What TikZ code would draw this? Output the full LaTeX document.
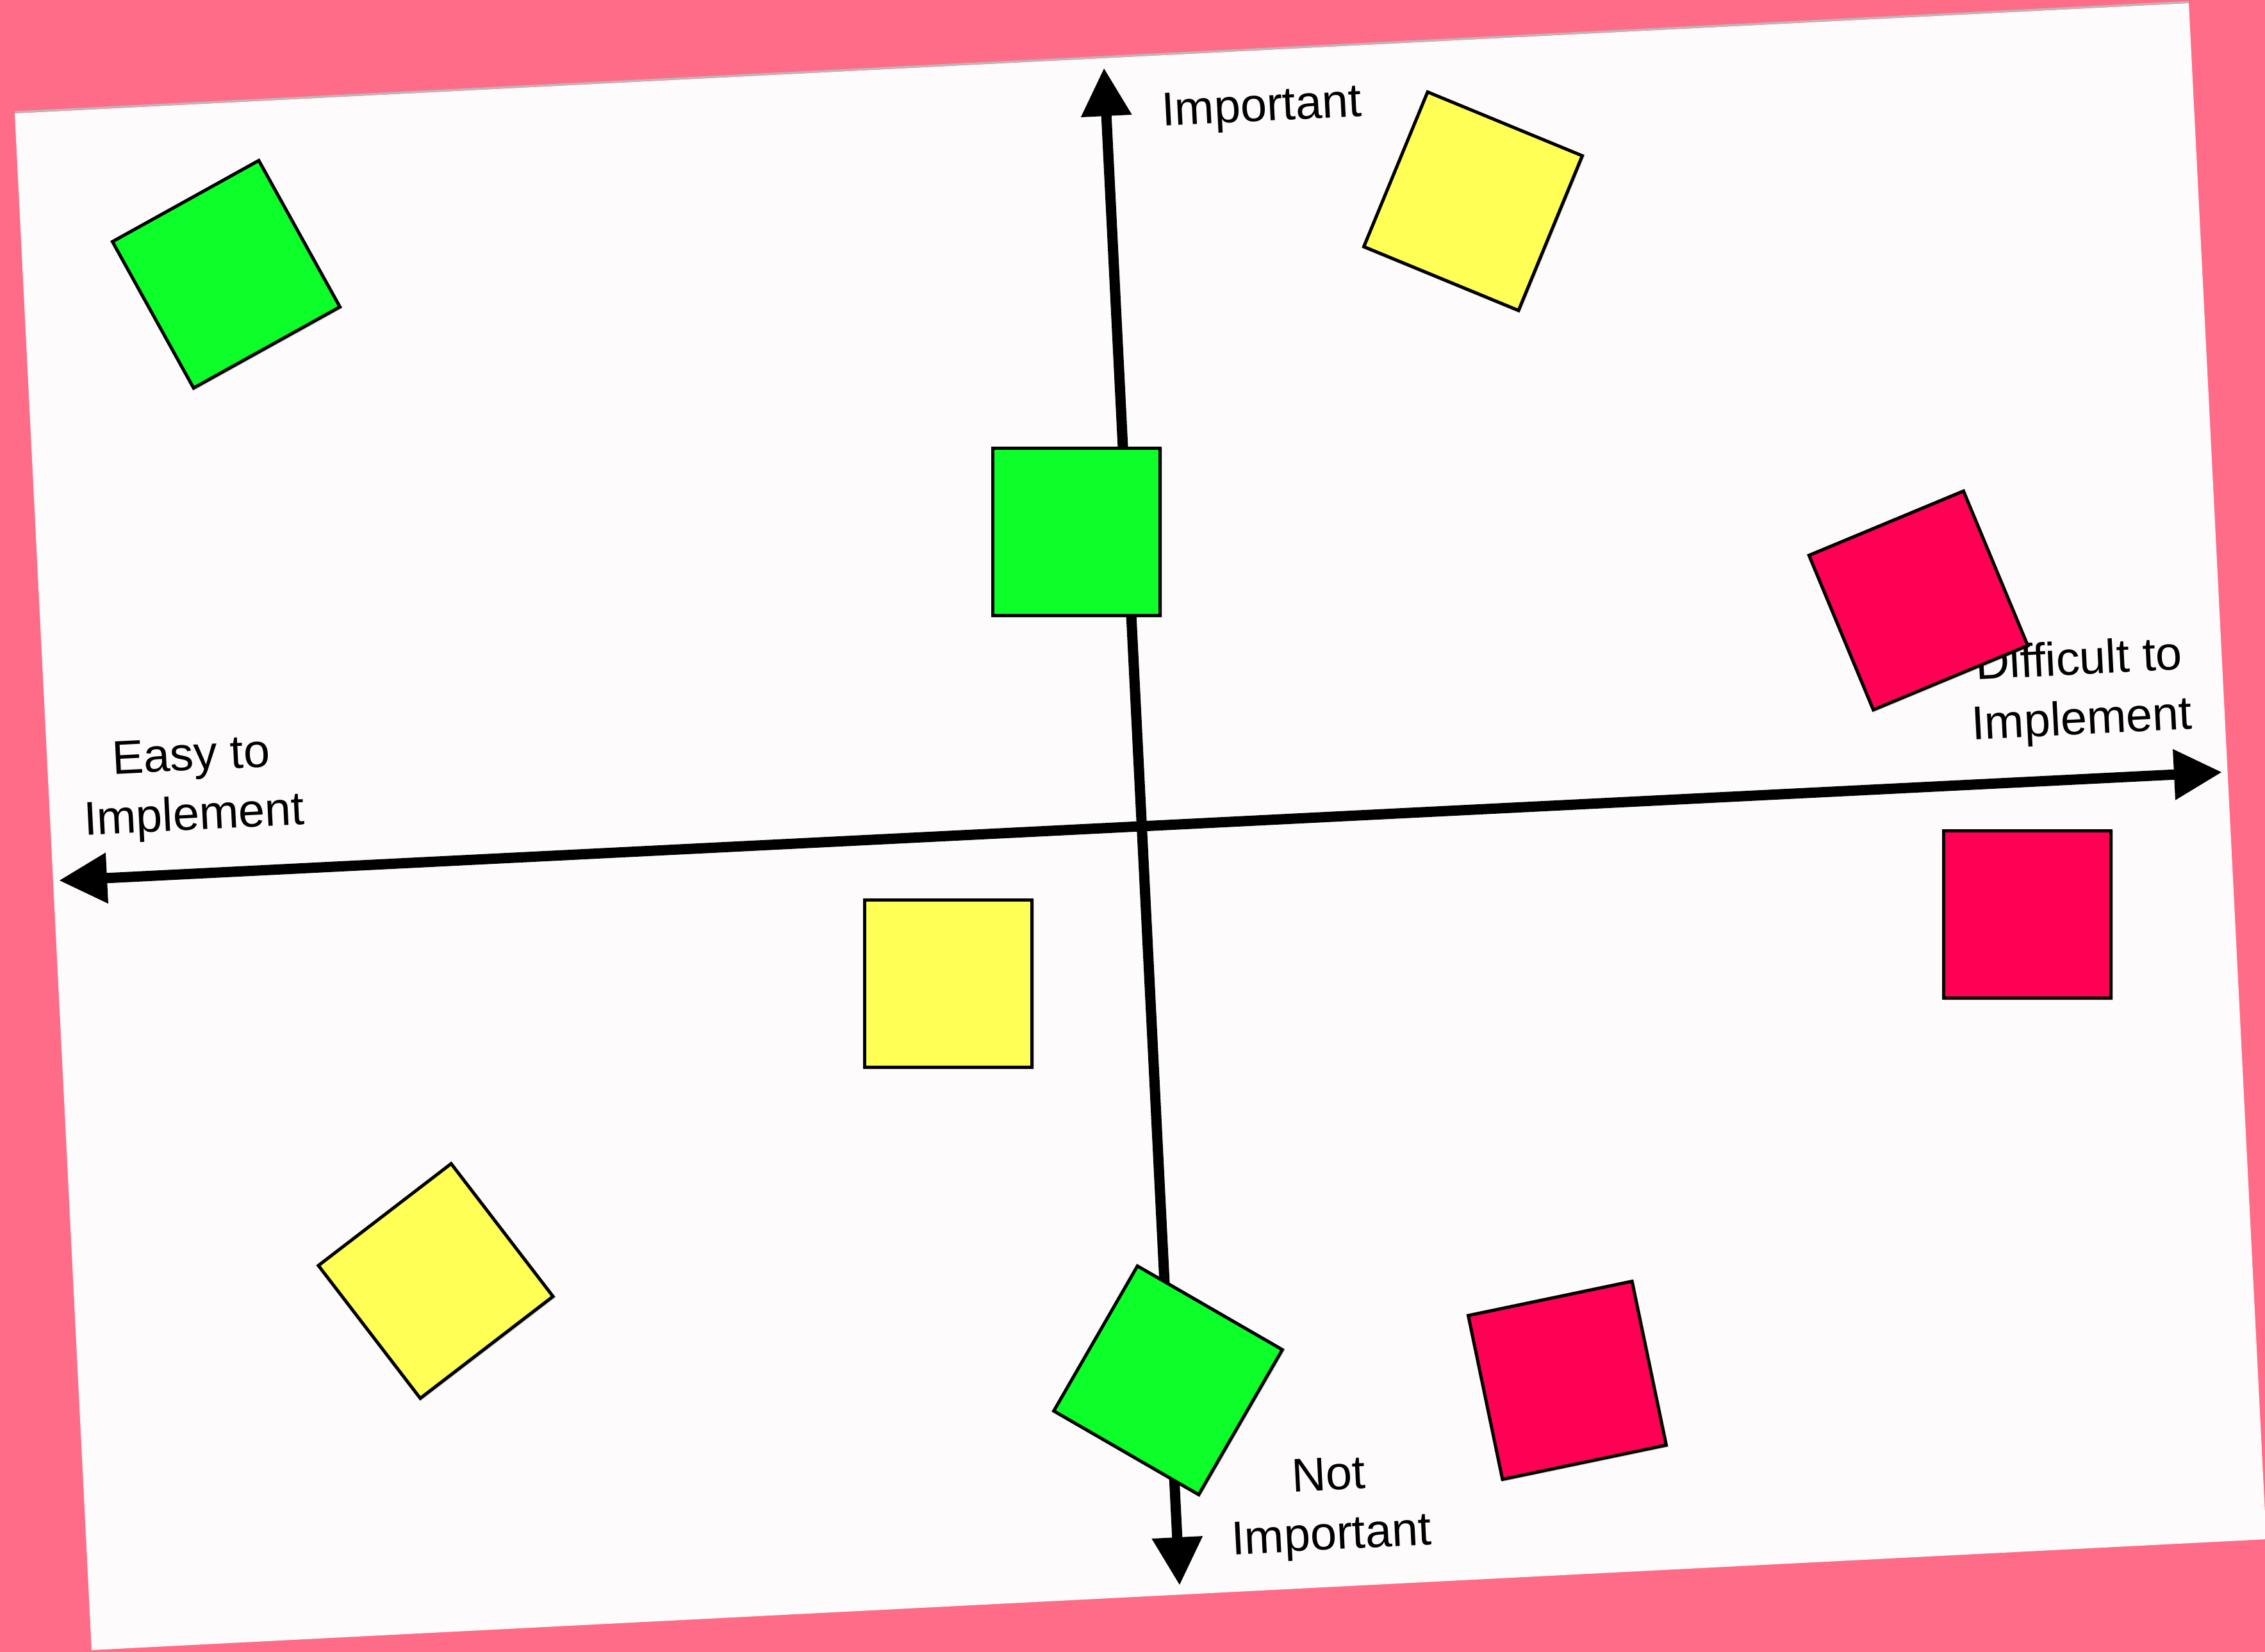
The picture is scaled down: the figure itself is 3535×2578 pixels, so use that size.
\documentclass[tikz,border=0pt]{standalone}
\usepackage{fontspec}
\setmainfont{Liberation Sans}
\usetikzlibrary{arrows.meta,shadows}
\definecolor{bgpink}{RGB}{255,108,135}
\definecolor{paper}{RGB}{253,251,252}
\definecolor{notegreen}{RGB}{12,255,40}
\definecolor{noteyellow}{RGB}{255,255,85}
\definecolor{notered}{RGB}{255,0,85}
\begin{document}
\begin{tikzpicture}[x=0.01cm,y=-0.01cm,
  axisline/.style={line width=0.16cm,
    {Triangle[length=0.75cm,width=0.75cm]}-{Triangle[length=0.75cm,width=0.75cm]}},
  note/.style={draw=black, line width=0.05cm, minimum size=2.61cm, inner sep=0pt,
    general shadow={shadow xshift=0.01cm, shadow yshift=-0.015cm, shadow scale=1.015, fill=black, opacity=0.18}},
  lbl/.style={font=\fontsize{21}{26.5}\selectfont, align=center, rotate=2.85, inner sep=0pt, text=black}]
  % background and page
  \fill[bgpink] (0,0) rectangle (3535,2578);
  \useasboundingbox (0,0) rectangle (3535,2578);
  \draw[gray!55, line width=0.03cm] (23,175) -- (3416,3);
  \fill[paper] (23,177) -- (3416,5) -- (3537,2402) -- (143,2575) -- cycle;
  % axes
  \coordinate (vt) at (1723,106);
  \coordinate (vb) at (1841,2474);
  \coordinate (hl) at (92,1374);
  \coordinate (hr) at (3468,1205);
  \draw[axisline] (vb) -- (vt);
  \draw[axisline] (hl) -- (hr);
  % labels
  \node[lbl, anchor=base] (imp) at (1970,189) {Important};
  \node[lbl] (easy) at (301,1231) {Easy to\\Implement};
  \node[lbl] (diff) at (3247,1080) {Difficult to\\Implement};
  \node[lbl] (notimp) at (2076,2354) {Not\\Important};
  % sticky notes
  \node[note, fill=notegreen, rotate=29] (g1) at (353,428) {};
  \node[note, fill=noteyellow, rotate=-22.4] (y1) at (2299,314) {};
  \node[note, fill=notegreen] (g2) at (1680,830) {};
  \node[note, fill=notered, rotate=22.6] (r1) at (2994,937) {};
  \node[note, fill=noteyellow] (y2) at (1480,1535) {};
  \node[note, fill=notered] (r2) at (3164,1427) {};
  \node[note, fill=noteyellow, rotate=37.5] (y3) at (680,1999) {};
  \node[note, fill=notegreen, rotate=-30] (g3) at (1823,2154) {};
  \node[note, fill=notered, rotate=11.8] (r3) at (2446,2154) {};
\end{tikzpicture}
\end{document}
